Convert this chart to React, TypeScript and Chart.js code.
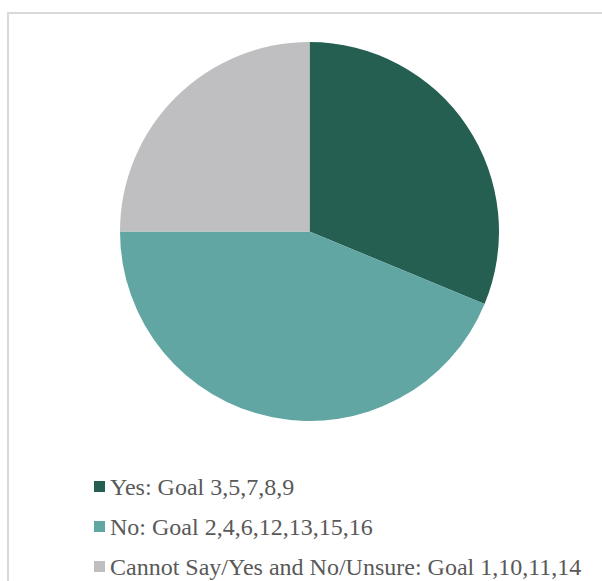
import React, { useEffect, useRef } from "react";
import { Chart, registerables } from "chart.js";

Chart.register(...registerables);

const categories: string[] = [
  "Yes: Goal 3,5,7,8,9",
  "No: Goal 2,4,6,12,13,15,16",
  "Cannot Say/Yes and No/Unsure: Goal 1,10,11,14",
];
const goalCounts: number[] = [5, 7, 4];
const sliceColors: string[] = ["#245F51", "#62A6A4", "#BFBFC1"];

export default function App() {
  const canvasRef = useRef<HTMLCanvasElement | null>(null);

  useEffect(() => {
    const canvas = canvasRef.current;
    if (!canvas) return;
    const chart = new Chart(canvas, {
      type: "pie",
      data: {
        labels: categories,
        datasets: [
          {
            data: goalCounts,
            backgroundColor: sliceColors,
            borderWidth: 0,
          },
        ],
      },
      options: {
        animation: false,
        responsive: false,
        devicePixelRatio: 1,
        layout: { padding: 0 },
        plugins: {
          legend: { display: false },
          tooltip: { enabled: false },
        },
      },
    });
    return () => chart.destroy();
  }, []);

  const font = '"Liberation Serif", "Times New Roman", serif';

  return (
    <div
      style={{
        position: "fixed",
        left: 0,
        top: 0,
        width: "100vw",
        height: "100vh",
        overflow: "hidden",
        background: "#FFFFFF",
      }}
    >
      <style>{"html,body{overflow:hidden;margin:0;}"}</style>
      <div
        style={{
          position: "absolute",
          left: 7,
          top: 12,
          right: 0,
          bottom: 0,
          borderLeft: "2px solid #D9D9D9",
          borderTop: "2px solid #D9D9D9",
        }}
      />
      <canvas
        ref={canvasRef}
        width={379}
        height={379}
        style={{ position: "absolute", left: 120, top: 42, width: 379, height: 379 }}
      />
      {categories.map((label, i) => (
        <div
          key={label}
          style={{
            position: "absolute",
            left: 94,
            top: 474 + i * 40,
            height: 26,
            lineHeight: "26px",
            whiteSpace: "nowrap",
            fontFamily: font,
            fontSize: 24,
            color: "#595959",
          }}
        >
          <span
            style={{
              position: "absolute",
              left: 0,
              top: 7,
              width: 11,
              height: 11,
              background: sliceColors[i],
            }}
          />
          <span style={{ position: "absolute", left: 16, top: 0 }}>{label}</span>
        </div>
      ))}
    </div>
  );
}
